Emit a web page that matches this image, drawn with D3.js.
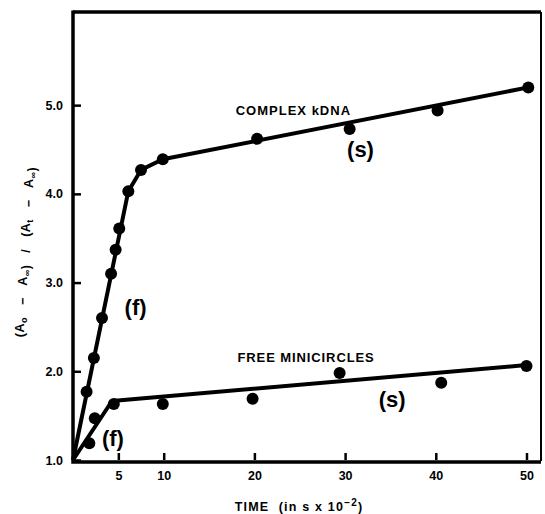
<!DOCTYPE html>
<html>
<head>
<meta charset="utf-8">
<script src="https://cdn.jsdelivr.net/npm/d3@7"></script>
<style>
  body { margin: 0; background: #fff; }
  svg text { font-family: "Liberation Sans", Arial, sans-serif; font-weight: bold; fill: #000; white-space: pre; }
</style>
</head>
<body>
<div id="chart"></div>
<script>
// measured points, time in s x 10^-2
const complexX = [1.5, 2.3, 3.2, 4.2, 4.7, 5.1, 6.1, 7.5, 9.9, 20.3, 30.5, 40.2, 50.2];
const complexY = [1.77, 2.15, 2.60, 3.10, 3.37, 3.61, 4.03, 4.27, 4.39, 4.62, 4.73, 4.94, 5.20];
const freeX = [1.8, 2.4, 4.5, 9.9, 19.8, 29.4, 40.6, 50.0];
const freeY = [1.19, 1.47, 1.63, 1.63, 1.69, 1.98, 1.87, 2.06];

// drawn fit lines
const complexFitX = [0, 6.1, 7.5, 9.9, 50.2];
const complexFitY = [1.0, 4.03, 4.27, 4.39, 5.20];
const freeFitX = [0, 4.3, 50.0];
const freeFitY = [1.0, 1.665, 2.07];

const xTicks = [5, 10, 20, 30, 40, 50];
const yTicks = [1.0, 2.0, 3.0, 4.0, 5.0];

const width = 545, height = 514;
const margin = { top: 12, right: 4, bottom: 54, left: 73 };

const x = d3.scaleLinear().domain([0, 51.6]).range([margin.left, width - margin.right]);
const y = d3.scaleLinear().domain([1, 6.05]).range([height - margin.bottom, margin.top]);

const svg = d3.select('#chart').append('svg')
  .attr('width', width)
  .attr('height', height);

// frame
const x0 = x.range()[0], x1 = x.range()[1];
const y0 = y.range()[0], y1 = y.range()[1];
svg.append('path')
  .attr('d', `M${x0},${y1}H${x1}`)
  .attr('stroke', '#000').attr('stroke-width', 3.5);
svg.append('path')
  .attr('d', `M${x1},${y1}V${y0 + 1}`)
  .attr('stroke', '#000').attr('stroke-width', 2);
svg.append('path')
  .attr('d', `M${x0},${y1 - 1.5}V${y0 + 2}H${x1}`)
  .attr('fill', 'none')
  .attr('stroke', '#000').attr('stroke-width', 3.5);

// axes
const xAxis = svg.append('g')
  .attr('transform', `translate(0,${y0})`)
  .call(d3.axisBottom(x).tickValues(xTicks).tickSize(-7).tickPadding(11).tickFormat(d3.format('d')));
const yAxis = svg.append('g')
  .attr('transform', `translate(${x0},0)`)
  .call(d3.axisLeft(y).tickValues(yTicks).tickSize(-8).tickPadding(10).tickFormat(d3.format('.1f')));

[xAxis, yAxis].forEach(a => {
  a.select('.domain').remove();
  a.selectAll('.tick line').attr('stroke', '#000').attr('stroke-width', 2.5);
  a.selectAll('.tick text')
    .style('font-family', '"Liberation Sans", Arial, sans-serif')
    .style('font-weight', 'bold')
    .style('font-size', '12.5px')
    .attr('fill', '#000');
});

// fit lines
const line = d3.line().x(d => x(d[0])).y(d => y(d[1]));
const series = [
  { fx: complexFitX, fy: complexFitY, px: complexX, py: complexY },
  { fx: freeFitX, fy: freeFitY, px: freeX, py: freeY }
];

series.forEach(s => {
  svg.append('path')
    .datum(d3.zip(s.fx, s.fy))
    .attr('d', line)
    .attr('fill', 'none')
    .attr('stroke', '#000')
    .attr('stroke-width', 4)
    .attr('stroke-linejoin', 'round');

  svg.append('g').selectAll('circle')
    .data(d3.zip(s.px, s.py))
    .join('circle')
    .attr('cx', d => x(d[0]))
    .attr('cy', d => y(d[1]))
    .attr('r', 6)
    .attr('fill', '#000');
});

// annotations
const note = (tx, ty, txt, size, ls) => svg.append('text')
  .attr('x', x(tx)).attr('y', y(ty))
  .attr('text-anchor', 'middle')
  .style('font-size', size + 'px')
  .style('letter-spacing', (ls || 0) + 'px')
  .text(txt);

note(24.3, 4.89, 'COMPLEX kDNA', 13, 1);
note(31.7, 4.41, '(s)', 22);
note(6.9, 2.63, '(f)', 22);
note(25.7, 2.10, 'FREE MINICIRCLES', 13, 0.9);
note(35.2, 1.60, '(s)', 22);
note(4.4, 1.16, '(f)', 22);

// axis titles
const xt = svg.append('text')
  .attr('x', 299).attr('y', 511)
  .attr('text-anchor', 'middle')
  .style('font-size', '12.5px')
  .style('letter-spacing', '1.2px');
xt.append('tspan').text('TIME  (in s x 10');
xt.append('tspan').attr('dy', -5).style('font-size', '10px').text('−2');
xt.append('tspan').attr('dy', 5).text(')');

const yt = svg.append('text')
  .attr('transform', 'translate(24,252) rotate(-90)')
  .attr('text-anchor', 'middle')
  .style('font-size', '12.5px')
  .style('letter-spacing', '0.5px');
const sub = (t, txt) => {
  t.append('tspan').attr('dy', 3).style('font-size', '9px').text(txt);
  t.append('tspan').attr('dy', -3).text('');
};
yt.append('tspan').text('(A');
sub(yt, 'o');
yt.append('tspan').text('   −   A');
sub(yt, '∞');
yt.append('tspan').text(')   /   (A');
sub(yt, 't');
yt.append('tspan').text('   −   A');
sub(yt, '∞');
yt.append('tspan').text(')');
</script>
</body>
</html>
